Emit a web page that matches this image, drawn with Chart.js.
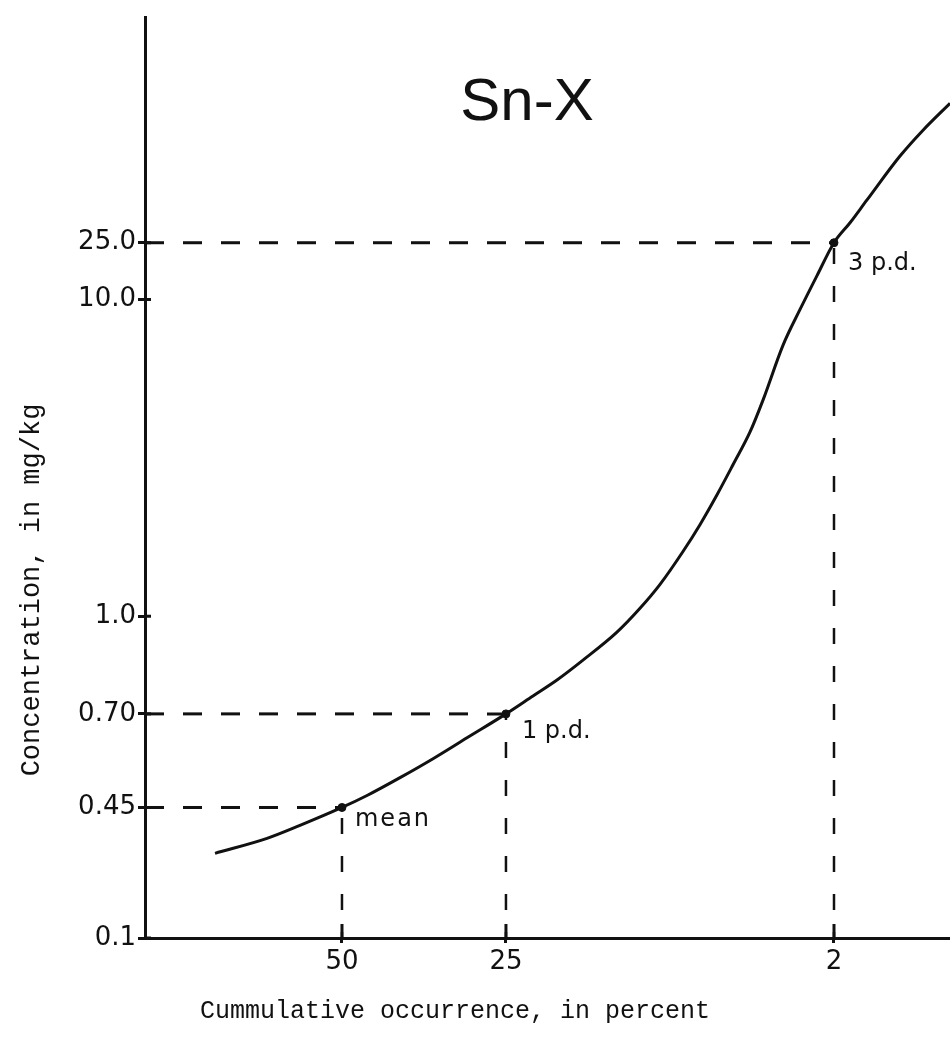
<!DOCTYPE html>
<html lang="en">
<head>
    <meta charset="UTF-8">
    <title>Sn-X</title>
    <script src="https://cdn.jsdelivr.net/npm/chart.js"></script>
    <style>
        html, body { margin: 0; padding: 0; background: #fff; }
        #wrap { width: 950px; height: 1050px; position: relative; }
    </style>
</head>
<body>
    <div id="wrap"><canvas id="snChart"></canvas></div>

    <script>
        // Axis positions are in "plot units" (0-100) because the original
        // hand-drawn scales are neither linear nor logarithmic.
        const xTickLabels = ['50', '25', '2'];
        const xTickPos = [24.47, 44.84, 85.59];
        const yTickLabels = ['0.1', '0.45', '0.70', '1.0', '10.0', '25.0'];
        const yTickPos = [0, 14.18, 24.35, 34.96, 69.37, 75.54];

        // Curve
        const curveX = [8.70, 15.16, 19.25, 24.47, 27.58, 31.68, 35.78, 40.00, 44.84, 48.20,
                        51.18, 54.41, 58.63, 61.49, 63.98, 66.83, 68.94, 71.06, 73.04, 75.16,
                        76.77, 79.25, 81.37, 83.48, 85.59, 87.58, 89.69, 93.79, 96.65, 100];
        const curveY = [9.20, 10.82, 12.23, 14.18, 15.48, 17.42, 19.48, 21.75, 24.35, 26.30,
                        28.03, 30.19, 33.23, 35.82, 38.42, 41.99, 44.91, 48.16, 51.41, 54.98,
                        58.44, 64.39, 68.29, 71.97, 75.54, 77.71, 80.19, 84.96, 87.77, 90.69];

        // Marked points (mean, 1 p.d., 3 p.d.)
        const markX = [24.47, 44.84, 85.59];
        const markY = [14.18, 24.35, 75.54];
        const markLabels = ['mean', '1 p.d.', '3 p.d.'];

        const ink = '#111';
        const guideSets = [];
        markX.forEach((mx, i) => {
            guideSets.push({
                data: [{x: 0, y: markY[i]}, {x: mx, y: markY[i]}],
                borderColor: ink, borderWidth: 3, borderDash: [19, 19],
                pointRadius: 0, showLine: true, tension: 0
            });
            guideSets.push({
                data: [{x: mx, y: 0}, {x: mx, y: markY[i]}],
                borderColor: ink, borderWidth: 2.5, borderDash: [16, 22], borderDashOffset: 10,
                pointRadius: 0, showLine: true, tension: 0
            });
        });

        // extra drawing: crossing ticks, labels, titles
        const extras = {
            id: 'extras',
            afterDraw(chart) {
                const {ctx, scales: {x, y}} = chart;
                ctx.save();
                ctx.strokeStyle = ink;
                ctx.lineWidth = 3;
                yTickPos.forEach(v => {
                    const py = y.getPixelForValue(v);
                    ctx.beginPath();
                    ctx.moveTo(x.left, py);
                    ctx.lineTo(x.left + 6, py);
                    ctx.stroke();
                });
                xTickPos.forEach(v => {
                    const px = x.getPixelForValue(v);
                    ctx.beginPath();
                    ctx.moveTo(px, y.bottom);
                    ctx.lineTo(px, y.bottom - 14);
                    ctx.stroke();
                });

                ctx.fillStyle = ink;
                ctx.font = '24px "DejaVu Sans"';
                ctx.textAlign = 'left';
                ctx.textBaseline = 'alphabetic';
                const offs = [[13, 19], [16, 24], [14, 27]];
                markLabels.forEach((t, i) => {
                    const px = x.getPixelForValue(markX[i]);
                    const py = y.getPixelForValue(markY[i]);
                    ctx.letterSpacing = i === 0 ? '2px' : '0px';
                    ctx.fillText(t, px + offs[i][0], py + offs[i][1]);
                });
                ctx.letterSpacing = '0px';

                ctx.font = '60px "Liberation Sans"';
                ctx.textAlign = 'center';
                ctx.fillText('Sn-X', 527, 120);

                ctx.font = '25px "Liberation Mono"';
                ctx.fillText('Cummulative occurrence, in percent', 455, 1018);
                ctx.font = '27px "Liberation Mono"';
                ctx.translate(39, 590);
                ctx.rotate(-Math.PI / 2);
                ctx.fillText('Concentration, in mg/kg', 0, 0);
                ctx.restore();
            }
        };

        new Chart(document.getElementById('snChart'), {
            type: 'scatter',
            data: {
                datasets: [
                    {
                        data: curveX.map((v, i) => ({x: v, y: curveY[i]})),
                        showLine: true, borderColor: ink, borderWidth: 3,
                        pointRadius: 0, cubicInterpolationMode: 'monotone'
                    },
                    ...guideSets,
                    {
                        data: markX.map((v, i) => ({x: v, y: markY[i]})),
                        backgroundColor: ink, borderColor: ink, pointRadius: 4
                    }
                ]
            },
            plugins: [extras],
            options: {
                responsive: true,
                maintainAspectRatio: false,
                animation: false,
                layout: { autoPadding: false, padding: { top: 14, right: 0, bottom: 0, left: 0 } },
                plugins: { legend: { display: false }, tooltip: { enabled: false } },
                scales: {
                    x: {
                        type: 'linear', min: 0, max: 100,
                        afterFit: s => { s.height = 112; },
                        afterBuildTicks: s => { s.ticks = xTickPos.map(v => ({value: v})); },
                        ticks: {
                            callback: (v, i) => xTickLabels[i],
                            color: ink, font: { family: 'DejaVu Sans', size: 26 },
                            padding: 4, maxRotation: 0, autoSkip: false
                        },
                        grid: { drawOnChartArea: false, color: ink, lineWidth: 3, tickLength: 5 },
                        border: { color: ink, width: 3 }
                    },
                    y: {
                        type: 'linear', min: 0, max: 100,
                        afterFit: s => { s.width = 145; },
                        afterBuildTicks: s => { s.ticks = yTickPos.map(v => ({value: v})); },
                        ticks: {
                            callback: (v, i) => yTickLabels[i],
                            color: ink, font: { family: 'DejaVu Sans', size: 26 },
                            padding: 2, autoSkip: false
                        },
                        grid: { drawOnChartArea: false, color: ink, lineWidth: 3, tickLength: 7 },
                        border: { color: ink, width: 3 }
                    }
                }
            }
        });
    </script>
</body>
</html>
